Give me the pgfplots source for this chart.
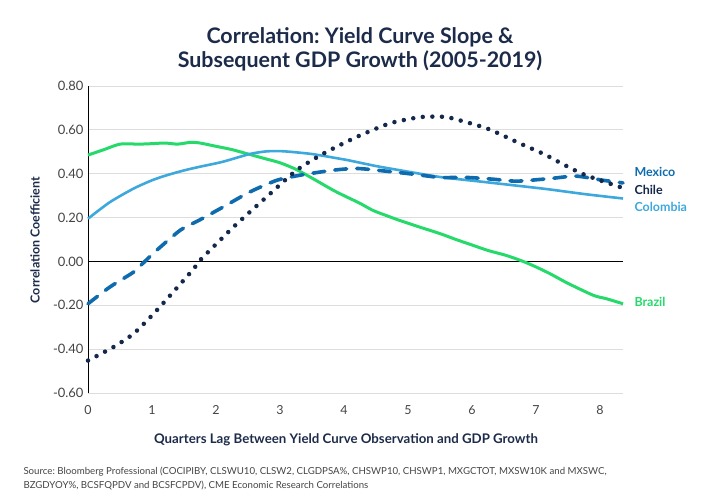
\documentclass[border=0pt]{standalone}
\usepackage{fontspec}
\setmainfont{Lato}
\usepackage{pgfplots}
\pgfplotsset{compat=1.18}
\definecolor{navy}{HTML}{14284B}
\definecolor{titlec}{HTML}{1D2B4A}
\definecolor{mexc}{HTML}{0E6BAE}
\definecolor{colc}{HTML}{3DA8DC}
\definecolor{brac}{HTML}{25D96A}
\definecolor{gridc}{HTML}{DDDDDD}
\definecolor{tickc}{HTML}{444444}
\frenchspacing
\begin{document}
\begin{tikzpicture}
\path[use as bounding box] (0,0) rectangle (720bp,-500bp);
\begin{axis}[
  scale only axis, width=535bp, height=307bp,
  at={(88bp,-393bp)}, anchor=south west,
  xmin=0, xmax=8.36, ymin=-0.6, ymax=0.8,
  xtick={0,1,2,3,4,5,6,7,8},
  xticklabels={0,1,2,3,4,5,6,7,8},
  ytick={-0.6,-0.4,-0.2,0,0.2,0.4,0.6,0.8},
  yticklabels={-0.60,-0.40,-0.20,0.00,0.20,0.40,0.60,0.80},
  major tick length=0pt,
  ymajorgrids, grid style={gridc, line width=0.8bp},
  separate axis lines,
  x axis line style={draw=none},
  y axis line style={black, line width=1bp},
  axis line style={black},
  axis x line*=bottom, axis y line*=left,
  xticklabel style={font=\fontsize{12.5}{14}\selectfont, text=tickc, yshift=-9bp},
  yticklabel style={font=\fontsize{13}{15}\selectfont, text=tickc, xshift=-1bp},
  extra y ticks={0}, extra y tick labels={},
  extra y tick style={grid=major, grid style={black, line width=1.2bp}},
  clip=false,
]
\addplot[brac, line width=3bp, smooth, tension=0.4] coordinates {
(0,0.485)(0.25,0.51)(0.5,0.535)(0.8,0.535)(1.0,0.537)(1.2,0.54)(1.4,0.535)(1.6,0.543)(1.75,0.54)(2.0,0.525)(2.25,0.51)(2.5,0.49)(2.75,0.47)(3.0,0.45)(3.25,0.42)(3.5,0.38)(3.83,0.325)(4.0,0.3)(4.25,0.265)(4.45,0.233)(4.7,0.205)(4.87,0.187)(5.2,0.155)(5.5,0.127)(5.75,0.1)(6.02,0.073)(6.25,0.05)(6.54,0.027)(6.8,0)(7.0,-0.025)(7.22,-0.056)(7.5,-0.1)(7.9,-0.155)(8.1,-0.17)(8.36,-0.193)};
\addplot[colc, line width=2.6bp, smooth, tension=0.4] coordinates {
(0,0.195)(0.34,0.27)(0.71,0.332)(1.0,0.37)(1.23,0.393)(1.5,0.415)(1.75,0.432)(2.1,0.454)(2.53,0.49)(2.79,0.502)(3.0,0.503)(3.16,0.5)(3.52,0.489)(4.0,0.465)(4.09,0.46)(4.5,0.435)(4.87,0.416)(5.5,0.385)(6.17,0.363)(6.96,0.337)(7.22,0.328)(7.79,0.306)(8.36,0.287)};
\addplot[mexc, line width=3.6bp, smooth, tension=0.4, line cap=round, dash pattern=on 12bp off 10bp] coordinates {
(0,-0.193)(0.34,-0.117)(0.71,-0.049)(0.87,-0.005)(1.07,0.05)(1.44,0.142)(1.75,0.19)(2.11,0.248)(2.53,0.317)(2.95,0.37)(3.31,0.393)(3.83,0.416)(4.2,0.424)(4.61,0.413)(5.08,0.398)(5.5,0.383)(5.92,0.383)(6.33,0.375)(6.7,0.366)(7.22,0.378)(7.63,0.389)(8.05,0.37)(8.36,0.358)};
\addplot[navy, line width=4.5bp, smooth, tension=0.4, line cap=round, dash pattern=on 0bp off 9.6bp] coordinates {
(0,-0.452)(0.4,-0.39)(0.71,-0.33)(1.02,-0.24)(1.33,-0.14)(1.65,-0.034)(1.75,0.005)(2.04,0.09)(2.32,0.17)(2.79,0.294)(3.26,0.416)(3.68,0.492)(4.2,0.568)(4.72,0.63)(5.19,0.658)(5.5,0.66)(5.66,0.655)(6.23,0.607)(6.75,0.538)(7.16,0.485)(7.3,0.462)(7.69,0.404)(8.0,0.37)(8.36,0.335)};
\end{axis}
\node[font=\fontsize{21.5}{24}\selectfont\bfseries, text=titlec] at (360bp,-37bp) {Correlation: Yield Curve Slope \&};
\node[font=\fontsize{21.5}{24}\selectfont\bfseries, text=titlec] at (360bp,-61bp) {Subsequent GDP Growth (2005-2019)};
\node[font=\fontsize{12.5}{14}\selectfont\bfseries, text=titlec, rotate=90] at (35bp,-240bp) {Correlation Coefficient};
\node[font=\fontsize{13.3}{15}\selectfont\bfseries, text=titlec] at (346bp,-440bp) {Quarters Lag Between Yield Curve Observation and GDP Growth};
\node[font=\fontsize{12.5}{14}\selectfont\bfseries, text=mexc, anchor=west] at (631bp,-172bp) {Mexico};
\node[font=\fontsize{12.5}{14}\selectfont\bfseries, text=navy, anchor=west] at (631bp,-190bp) {Chile};
\node[font=\fontsize{12.5}{14}\selectfont\bfseries, text=colc, anchor=west] at (631bp,-207bp) {Colombia};
\node[font=\fontsize{12.5}{14}\selectfont\bfseries, text=brac, anchor=west] at (631bp,-302bp) {Brazil};
\node[font=\fontsize{9.7}{14.5}\selectfont, text=tickc, anchor=north west, align=left] at (20bp,-463bp) {Source: Bloomberg Professional (COCIPIBY, CLSWU10, CLSW2, CLGDPSA\%, CHSWP10, CHSWP1, MXGCTOT, MXSW10K and MXSWC,\\BZGDYOY\%, BCSFQPDV and BCSFCPDV), CME Economic Research Correlations};
\end{tikzpicture}
\end{document}
